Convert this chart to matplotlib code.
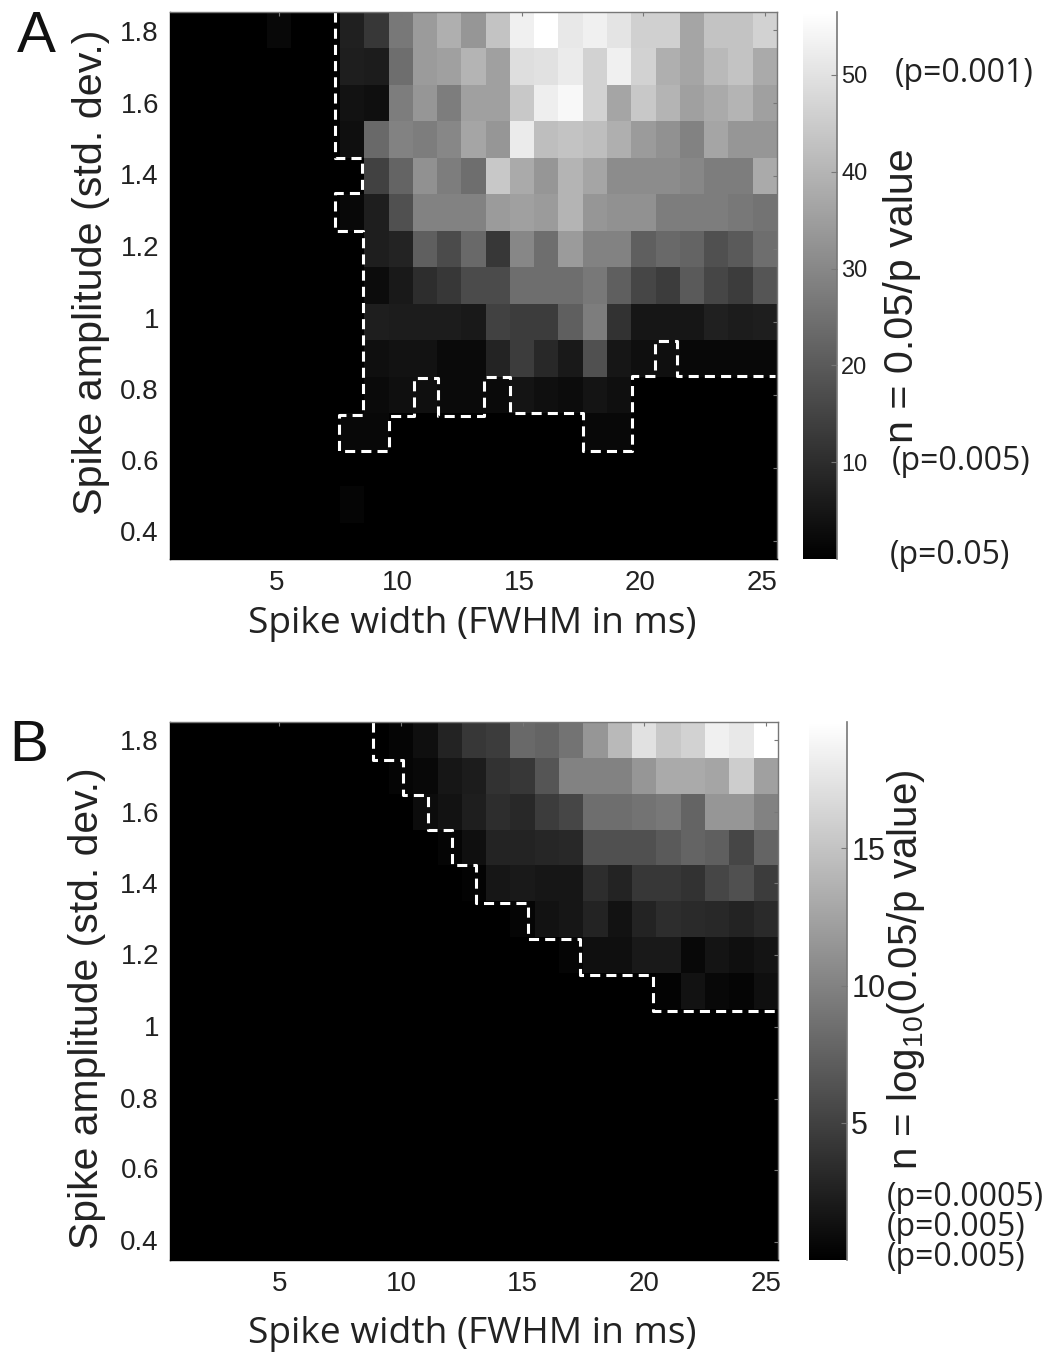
import numpy as np
import matplotlib
matplotlib.use("Agg")
import matplotlib.pyplot as plt
from matplotlib.transforms import ScaledTranslation

W, H = 1060, 1352
plt.rcParams['font.family'] = ['Liberation Sans', 'DejaVu Sans']
plt.rcParams['mathtext.fontset'] = 'custom'
plt.rcParams['mathtext.rm'] = 'Liberation Sans'
plt.rcParams['mathtext.default'] = 'regular'

amplitudes = [0.4, 0.5, 0.6, 0.7, 0.8, 0.9, 1.0, 1.1, 1.2, 1.3, 1.4, 1.5, 1.6, 1.7, 1.8]
widths = list(range(1, 26))

# Panel A, grey level per column (width 1..25)
a_18 = [0,0,0,0,8,0,0,32,55,120,155,175,150,195,240,255,232,240,228,208,208,165,195,195,210]
a_17 = [0,0,0,0,0,0,0,30,28,110,155,160,180,160,222,225,235,210,240,210,175,165,185,195,170]
a_16 = [0,0,0,0,0,0,0,18,15,125,150,125,160,160,200,238,248,210,165,200,180,160,170,180,160]
a_15 = [0,0,0,0,0,0,0,15,105,130,125,135,165,150,235,190,195,190,175,155,145,130,165,150,150]
a_14 = [0,0,0,0,0,0,0,0,65,100,145,125,110,200,170,150,180,165,140,140,140,135,125,125,170]
a_13 = [0,0,0,0,0,0,0,8,30,80,130,130,130,155,160,155,180,150,145,145,125,125,125,120,115]
a_12 = [0,0,0,0,0,0,0,0,30,35,95,75,105,55,135,110,155,130,130,95,105,100,80,90,110]
a_11 = [0,0,0,0,0,0,0,0,12,25,45,55,75,75,110,110,110,120,95,70,60,90,70,60,85]
a_10 = [0,0,0,0,0,0,0,0,30,28,28,28,25,65,60,60,95,125,50,22,22,22,32,28,30]
a_09 = [0,0,0,0,0,0,0,0,15,18,18,10,10,35,60,40,25,80,22,15,15,8,8,8,8]
a_08 = [0,0,0,0,0,0,0,0,10,15,15,10,10,10,20,15,12,20,15,0,0,0,0,0,0]
a_07 = [0,0,0,0,0,0,0,8,8,0,0,0,0,0,0,0,0,8,8,0,0,0,0,0,0]
a_06 = [0]*25
a_05 = [0,0,0,0,0,0,0,5,0,0,0,0,0,0,0,0,0,0,0,0,0,0,0,0,0]
a_04 = [0]*25

# Panel B, grey level per column
b_18 = [0,0,0,0,0,0,0,0,0,5,15,35,55,60,105,100,115,150,185,225,200,210,240,232,255]
b_17 = [0,0,0,0,0,0,0,0,0,5,8,22,28,50,55,85,130,130,130,150,170,170,165,205,160]
b_16 = [0,0,0,0,0,0,0,0,0,0,12,18,30,45,40,60,70,110,110,115,120,100,150,150,130]
b_15 = [0,0,0,0,0,0,0,0,0,0,0,5,15,35,35,38,40,80,80,80,90,100,95,70,100]
b_14 = [0,0,0,0,0,0,0,0,0,0,0,0,3,22,25,22,22,45,35,55,55,50,70,80,60]
b_13 = [0,0,0,0,0,0,0,0,0,0,0,0,0,0,5,18,22,35,18,35,45,42,40,35,42]
b_12 = [0,0,0,0,0,0,0,0,0,0,0,0,0,0,0,0,5,15,15,25,25,8,20,15,20]
b_11 = [0,0,0,0,0,0,0,0,0,0,0,0,0,0,0,0,0,0,0,0,3,18,8,5,15]
b_10 = [0]*25
b_09 = [0]*25
b_08 = [0]*25
b_07 = [0]*25
b_06 = [0]*25
b_05 = [0]*25
b_04 = [0]*25

# Significance boundaries (width, amplitude)
a_contour_x = [7.30,7.30,8.41,8.41,7.30,7.30,8.45,8.45,7.46,7.46,9.52,9.52,10.55,10.55,11.54,11.54,
               13.43,13.43,14.50,14.50,17.51,17.51,19.53,19.53,20.48,20.48,21.38,21.38,25.42]
a_contour_y = [1.85,1.45,1.45,1.354,1.354,1.25,1.25,0.745,0.745,0.646,0.646,0.742,0.742,0.846,0.846,0.742,
               0.742,0.849,0.849,0.75,0.75,0.646,0.646,0.852,0.852,0.948,0.948,0.852,0.852]
b_contour_x = [8.84,8.84,10.08,10.08,11.11,11.11,12.10,12.10,13.09,13.09,15.23,15.23,17.37,17.37,
               20.38,20.38,25.41]
b_contour_y = [1.85,1.744,1.744,1.646,1.646,1.549,1.549,1.451,1.451,1.345,1.345,1.245,1.245,1.145,
               1.145,1.044,1.044]

a_max, b_max = 56.5, 19.6
a_rows = [a_04,a_05,a_06,a_07,a_08,a_09,a_10,a_11,a_12,a_13,a_14,a_15,a_16,a_17,a_18]
b_rows = [b_04,b_05,b_06,b_07,b_08,b_09,b_10,b_11,b_12,b_13,b_14,b_15,b_16,b_17,b_18]
a_n = np.array(a_rows, float) / 255 * a_max
b_n = np.array(b_rows, float) / 255 * b_max

x_ticks = [5, 10, 15, 20, 25]
y_ticks = [0.4, 0.6, 0.8, 1.0, 1.2, 1.4, 1.6, 1.8]
y_labels = ['0.4', '0.6', '0.8', '1', '1.2', '1.4', '1.6', '1.8']
a_cb_ticks = [10, 20, 30, 40, 50]
b_cb_ticks = [5, 10, 15]

fig = plt.figure(figsize=(W / 100, H / 100), dpi=100, facecolor='white')

def box(l, t, r, b):
    return fig.add_axes([l / W, 1 - b / H, (r - l) / W, (b - t) / H])

GREY = '#777777'
TXT = '#222222'
LABEL_FONT = ['Open Sans', 'DejaVu Sans']

def panel(rect, cb_rect, data, vmax, cx, cy, cb_ticks, cb_size, cb_pad, lab_shift, x_shift):
    ax = box(*rect)
    im = ax.pcolormesh(np.arange(0.5, 26), np.arange(0.35, 1.86, 0.1), data,
                       cmap='gray', vmin=0, vmax=vmax, shading='flat')
    ax.plot(cx, cy, color='white', lw=2.2, dashes=(3.3, 2.0), clip_on=True)
    ax.set_xlim(0.5, 25.5)
    ax.set_ylim(0.35, 1.85)
    ax.set_xticks(x_ticks)
    ax.set_yticks(y_ticks)
    ax.set_yticklabels(y_labels)
    ax.tick_params(direction='in', top=True, right=True, left=False, bottom=False,
                   length=3, width=0.8, color=GREY, labelsize=20, labelcolor=TXT, pad=8)
    for name, s in ax.spines.items():
        s.set_color(GREY if name in ('top', 'right') else 'black')
        s.set_linewidth(1.0)
    for lab, dy in zip(ax.get_yticklabels(), lab_shift):
        lab.set_transform(lab.get_transform() + ScaledTranslation(0, dy / 100, fig.dpi_scale_trans))
    for lab in ax.get_xticklabels():
        lab.set_transform(lab.get_transform() + ScaledTranslation(x_shift / 100, 0, fig.dpi_scale_trans))
    cax = box(*cb_rect)
    cb = fig.colorbar(im, cax=cax)
    cb.outline.set_visible(False)
    cax.spines['right'].set_visible(True)
    cax.spines['right'].set_color(GREY)
    cax.spines['right'].set_linewidth(1.2)
    cb.set_ticks(cb_ticks)
    cax.tick_params(direction='in', length=4, width=0.8, color=GREY,
                    labelsize=cb_size, labelcolor=TXT, pad=cb_pad)
    return ax, cax

ax_a, cax_a = panel((170, 12, 777, 559), (803, 12, 837, 559), a_n, a_max, a_contour_x, a_contour_y,
                    a_cb_ticks, 17, 3, [10, 8, 6, 4, 3, 2, 0, -1], -3)
ax_b, cax_b = panel((170, 722, 778, 1260), (809, 722, 847, 1260), b_n, b_max, b_contour_x, b_contour_y,
                    b_cb_ticks, 22, 3, [2, 2, 1, 1, 1, 0, 0, 0], 0)

def t(x, y, s, **kw):
    fig.text(x / W, 1 - y / H, s, ha=kw.pop('ha', 'center'), va=kw.pop('va', 'center'), **kw)

t(36, 37, 'A', fontsize=42, color='#111111')
t(29, 746, 'B', fontsize=42, color='#111111')
t(472, 624, 'Spike width (FWHM in ms)', fontsize=26.7, family=LABEL_FONT, color=TXT)
t(472, 1334, 'Spike width (FWHM in ms)', fontsize=26.7, family=LABEL_FONT, color=TXT)
t(91, 272, 'Spike amplitude (std. dev.)', fontsize=29.7, rotation=90, color=TXT)
t(87, 1008, 'Spike amplitude (std. dev.)', fontsize=29.4, rotation=90, color=TXT)
t(902, 296, 'n = 0.05/p value', fontsize=29.7, rotation=90, color=TXT)
t(906, 970, r'n = log$_{10}$(0.05/p value)', fontsize=29, rotation=90, color=TXT)
t(895, 73, '(p=0.001)', fontsize=23, ha='left', family=LABEL_FONT, color=TXT)
t(892, 461, '(p=0.005)', fontsize=23, ha='left', family=LABEL_FONT, color=TXT)
t(890, 556, '(p=0.05)', fontsize=23, ha='left', family=LABEL_FONT, color=TXT)
t(887, 1198, '(p=0.0005)', fontsize=23, ha='left', family=LABEL_FONT, color=TXT)
t(887, 1228, '(p=0.005)', fontsize=23, ha='left', family=LABEL_FONT, color=TXT)
t(887, 1258, '(p=0.005)', fontsize=23, ha='left', family=LABEL_FONT, color=TXT)

fig.savefig('out.png', dpi=100, facecolor='white')
